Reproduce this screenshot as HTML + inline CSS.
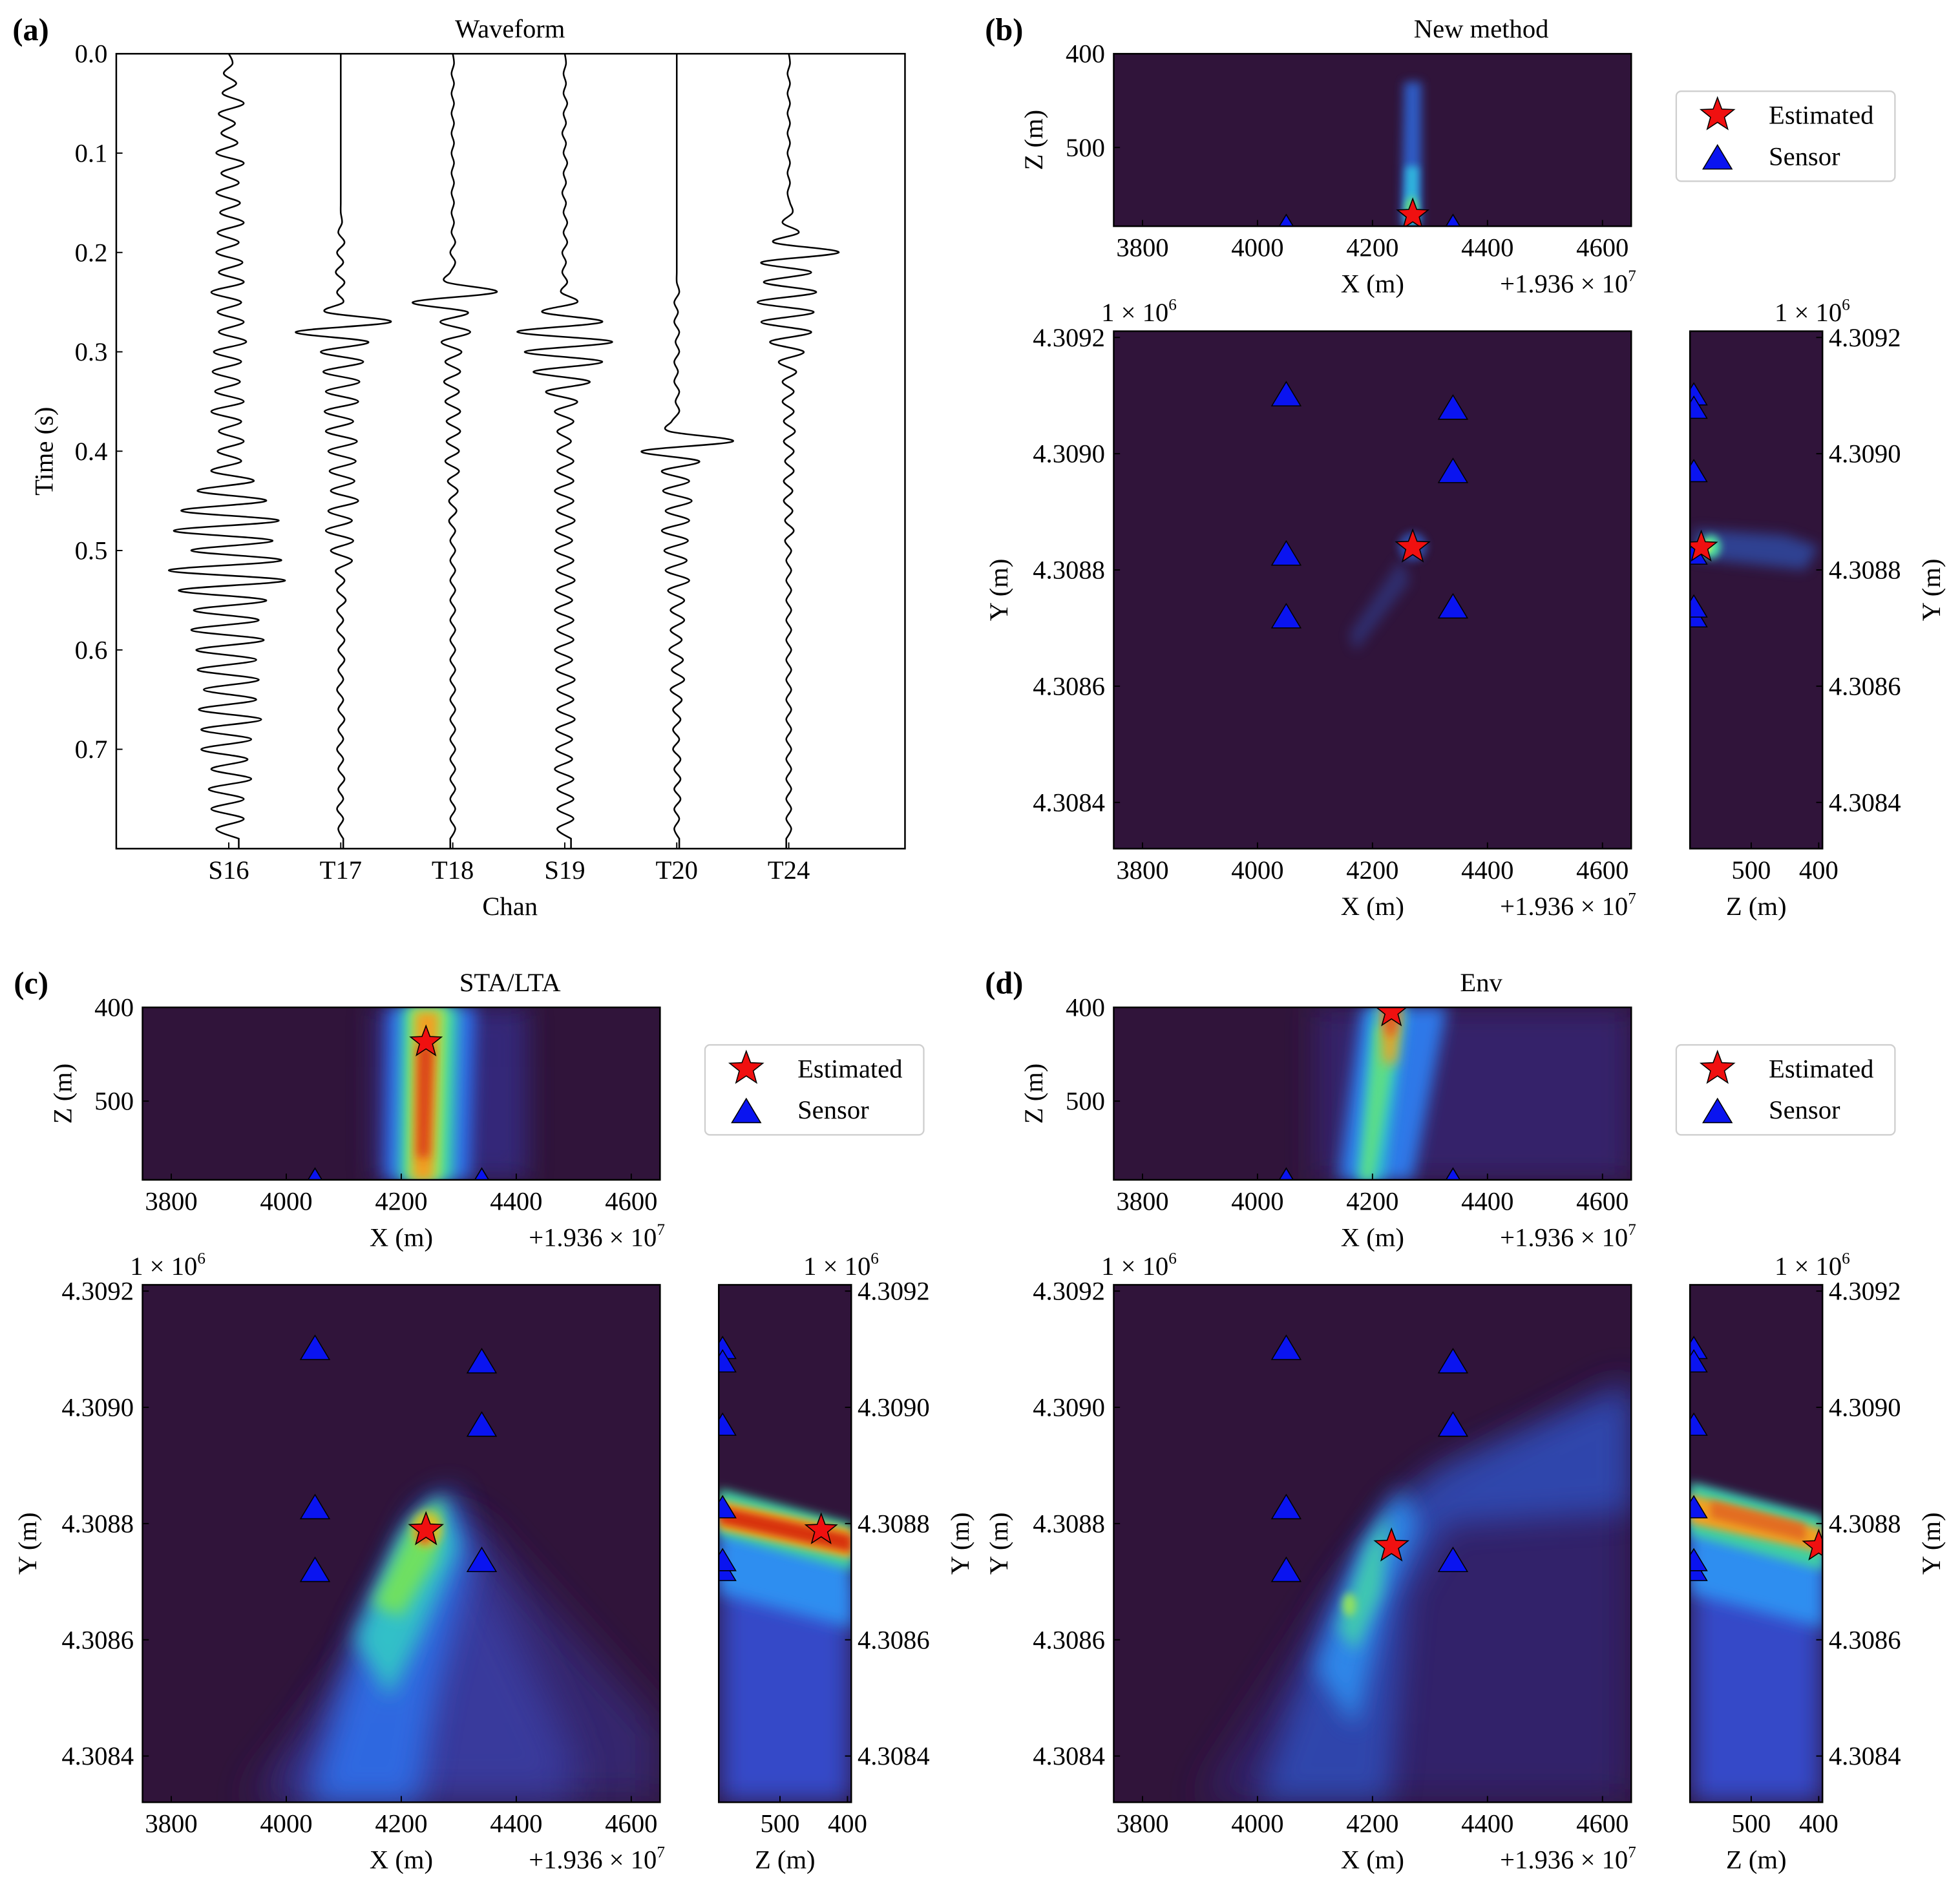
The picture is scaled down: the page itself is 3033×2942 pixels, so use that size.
<!DOCTYPE html>
<html><head><meta charset="utf-8"><style>
html,body{margin:0;padding:0;background:#fff;}
svg{display:block;font-family:"Liberation Serif",serif;}
</style></head><body>
<svg id="fig" width="3033" height="2942" viewBox="0 0 1568 1521" xmlns="http://www.w3.org/2000/svg">
<defs id="defs"></defs>
</svg>
<script>
// ---------- Waveform data (amplitude per 0.01 s sample, t = 0..0.79) ----------
const channels = ["S16","T17","T18","S19","T20","T24"];
const yTicksA = [0.0,0.1,0.2,0.3,0.4,0.5,0.6,0.7];
const wS16 = [0,3,-4,6,-5,12,-8,5,-6,7,-10,12,-6,8,-10,9,-7,12,-9,8,-10,11,-8,12,-14,10,-9,12,-8,14,-12,10,-13,9,-11,12,-14,10,-8,12,-9,10,-14,20,-25,30,-38,40,-44,35,-30,42,-48,45,-40,30,-28,24,-30,28,-26,22,-25,24,-20,22,-24,26,-22,18,-22,15,-14,18,-16,12,-14,12,-10,8];
const wT17 = [0,0,0,0,0,0,0,0,0,0,0,0,0,0,0,0,0,1,-2,3,-3,2,-4,3,-3,2,-12,40,-36,22,-16,18,-14,15,-12,14,-13,10,-12,13,-10,12,-9,11,-8,14,-10,9,-12,10,-8,9,-4,3,-3,4,-3,2,-3,3,-2,3,-2,2,-3,2,-2,3,-2,2,-3,2,-2,3,-2,2,-3,2,-2,2];
const wT18 = [0,1,-1,1,-1,1,-1,1,-1,1,-1,1,-1,1,-1,1,-1,1,-1,2,-2,2,-2,-5,35,-32,12,-10,14,-9,7,-6,6,-7,5,-6,6,-5,6,-5,5,-6,5,-4,4,-3,3,-3,2,-2,2,-2,2,-2,2,-2,2,-2,2,-2,2,-2,2,-2,2,-2,2,-2,2,-2,2,-2,2,-2,2,-2,2,-2,2,-2];
const wS19 = [0,1,-1,1,-1,2,-1,1,-2,1,-1,2,-1,1,-2,1,-1,2,-1,2,-2,1,-2,2,-3,10,-18,30,-38,38,-32,30,-25,20,-15,10,-8,7,-6,5,-6,7,-6,7,-8,7,-6,8,-7,6,-8,7,-6,8,-7,6,-8,7,-6,7,-8,6,-7,8,-6,7,-6,8,-7,6,-7,6,-8,7,-6,7,-6,7,-6,5];
const wT20 = [0,0,0,0,0,0,0,0,0,0,0,0,0,0,0,0,0,0,0,0,0,0,0,0,2,-2,1,-2,2,-1,2,-2,1,-2,2,-1,2,-4,-6,45,-28,18,-12,10,-11,12,-9,10,-12,9,-10,8,-9,10,-7,6,-5,6,-5,4,-6,5,-4,6,-5,4,-3,3,-3,2,-3,3,-2,3,-2,3,-2,2,-2,2];
const wT24 = [0,1,-1,1,-1,1,-1,1,-1,1,-1,1,-1,1,-1,1,3,-5,8,-12,40,-22,18,-20,22,-25,20,-22,18,-15,12,-8,6,-5,4,-5,4,-4,5,-4,4,-3,4,-4,3,-4,3,-3,4,-3,2,-2,2,-2,2,-2,2,-2,2,-2,2,-2,2,-2,2,-2,2,-2,2,-2,2,-2,2,-2,2,-2,2,-2,2,-2];
const waveforms = [wS16,wT17,wT18,wS19,wT20,wT24];

// ---------- Location data ----------
const xTicks = [3800,4000,4200,4400,4600];
const zTicksTop = [400,500];
const zTicksSide = [500,400];
const yTicks = [4.3092,4.3090,4.3088,4.3086,4.3084];
const sensorX = [4050,4050,4050,4340,4340,4340];
const sensorY = [4.30910,4.308826,4.308718,4.309077,4.308968,4.308735];
const sensorZ = [585,585,585,585,585,585];
const panelNames = ["b","c","d"];
const panelTitles = ["New method","STA/LTA","Env"];
const estX = [4270,4243,4233];
const estY = [4.308839,4.308789,4.308761];
const estZTop = [572,437,405];
const estZSide = [574,439,400];

// heatmap approximations (data coords)
const heatTop = {
 b:[['p','#2f6ee8',0.8,4,[[4255,430],[4285,430],[4285,584],[4250,584]]],
    ['p','#30c0e0',0.9,3,[[4258,520],[4280,520],[4280,584],[4255,584]]],
    ['e','#70e070',1,3,4268,565,10,12]],
 c:[['p','#362c80',0.9,10,[[4150,400],[4420,400],[4420,584],[4150,584]]],
    ['p','#2f6ee8',1,6,[[4175,400],[4330,400],[4320,584],[4170,584]]],
    ['p','#3ad0b0',1,5,[[4200,400],[4300,400],[4290,584],[4195,584]]],
    ['p','#8ee860',1,4,[[4215,400],[4280,400],[4270,584],[4210,584]]],
    ['p','#f0a020',1,4,[[4225,405],[4265,405],[4255,584],[4220,584]]],
    ['p','#d63015',0.9,4,[[4230,440],[4255,440],[4248,560],[4228,560]]]],
 d:[['p','#35236a',1,12,[[4100,400],[4650,400],[4650,584],[4100,584]]],
    ['p','#2f78e8',1,6,[[4180,400],[4330,400],[4270,584],[4140,584]]],
    ['p','#30c0d0',1,5,[[4200,400],[4260,400],[4220,584],[4170,584]]],
    ['p','#60e080',0.9,4,[[4205,420],[4245,420],[4200,584],[4180,584]]],
    ['p','#f0a020',1,5,[[4215,400],[4250,400],[4240,460],[4220,460]]],
    ['p','#e05020',1,4,[[4222,400],[4245,400],[4238,430],[4225,430]]]]
};
const heatMain = {
 b:[['e','#2f6ee8',0.6,3,4270,4.30884,25,0.000025],
    ['p','#2f5ed0',0.35,5,[[4160,4.30869],[4250,4.30882],[4265,4.30878],[4170,4.30866]]]],
 c:[['p','#34256e',1,16,[[3930,4.30832],[4150,4.30860],[4270,4.30882],[4330,4.30880],[4650,4.30845],[4650,4.30832]]],
    ['p','#3a3fa8',0.8,16,[[3990,4.30832],[4150,4.30862],[4270,4.30882],[4330,4.30876],[4500,4.30840],[4500,4.30832]]],
    ['p','#2f6ee8',0.9,12,[[4040,4.30832],[4130,4.30862],[4230,4.30882],[4290,4.30886],[4320,4.30874],[4260,4.30850],[4230,4.30832]]],
    ['p','#30c0c8',1,8,[[4120,4.30860],[4200,4.30878],[4270,4.30885],[4300,4.30876],[4230,4.30860],[4180,4.30850]]],
    ['p','#70e060',1,6,[[4150,4.30866],[4220,4.30880],[4270,4.30884],[4260,4.30874],[4200,4.30864]]],
    ['e','#e0c020',1,4,4245,4.30879,25,0.00003],
    ['e','#e05020',0.9,3,4240,4.30878,12,0.000015]],
 d:[['p','#33226a',1,16,[[3900,4.30832],[4150,4.30870],[4300,4.30886],[4650,4.30905],[4650,4.30832]]],
    ['p','#2f5ad0',0.65,12,[[4000,4.30832],[4120,4.30865],[4230,4.30883],[4320,4.30890],[4650,4.30904],[4650,4.30882],[4330,4.30880],[4260,4.30868],[4230,4.30832]]],
    ['p','#2f8ef0',0.9,9,[[4100,4.30855],[4180,4.30876],[4250,4.30886],[4280,4.30880],[4220,4.30866],[4170,4.30845]]],
    ['p','#40c8b0',1,6,[[4140,4.30862],[4190,4.30876],[4230,4.30882],[4215,4.30868],[4170,4.30858]]],
    ['e','#90e060',1,3,4160,4.30866,12,0.00002]]
};
const heatSide = {
 b:[['p','#2f6ee8',0.5,5,[[585,4.30882],[585,4.30887],[450,4.30886],[400,4.30884],[420,4.30880],[500,4.30881]]],
    ['e','#50e0a0',1,3,560,4.30884,15,0.00002],
    ['e','#e0f040',1,2,565,4.30884,6,0.00001]],
 c:[['p','#3448c8',1,10,[[590,4.30878],[394,4.30870],[394,4.30832],[590,4.30832]]],
    ['p','#2f8ef0',1,6,[[590,4.30884],[394,4.30878],[394,4.30862],[590,4.30868]]],
    ['p','#40d0a0',1,4,[[590,4.30886],[394,4.30880],[394,4.30872],[590,4.30878]]],
    ['p','#f0b020',1,3,[[590,4.30884],[394,4.30879],[394,4.30874],[590,4.30879]]],
    ['p','#d83010',1,3,[[590,4.30883],[394,4.30878],[394,4.30875],[590,4.30880]]]],
 d:[['p','#3448c8',1,10,[[590,4.30882],[394,4.30876],[394,4.30832],[590,4.30832]]],
    ['p','#2f8ef0',1,6,[[590,4.30886],[394,4.30880],[394,4.30862],[590,4.30868]]],
    ['p','#40d0a0',1,4,[[590,4.30887],[394,4.30881],[394,4.30872],[590,4.30878]]],
    ['p','#f0a020',1,3,[[590,4.30885],[394,4.30879],[394,4.30875],[590,4.30880]]],
    ['p','#e06020',0.8,3,[[560,4.30884],[420,4.30880],[420,4.30877],[560,4.30881]]]]
};

const NS="http://www.w3.org/2000/svg";
const svg=document.getElementById('fig');
const defs=document.getElementById('defs');
const TS=21, LS=21;
function mk(tag,attrs,parent){const e=document.createElementNS(NS,tag);for(const k in attrs)e.setAttribute(k,attrs[k]);(parent||svg).appendChild(e);return e;}
function txt(s,x,y,size,anchor,parent,extra){const t=mk('text',Object.assign({x:x,y:y,'font-size':size,'text-anchor':anchor||'middle',fill:'#000'},extra||{}),parent);t.textContent=s;return t;}
function sci(x,y,base,exp,anchor,parent){const t=mk('text',{x:x,y:y,'font-size':TS,'text-anchor':anchor,fill:'#000'},parent);
 const a=mk('tspan',{},t);a.textContent=base;const b=mk('tspan',{dy:-9,'font-size':13},t);b.textContent=exp;return t;}
const blurs={};
function blurId(s){if(!blurs[s]){const f=mk('filter',{id:'bl'+s,x:'-50%',y:'-50%',width:'200%',height:'200%'},defs);mk('feGaussianBlur',{stdDeviation:s},f);blurs[s]=1;}return 'url(#bl'+s+')';}
let clipN=0;
function clipRect(x,y,w,h){const id='cp'+(clipN++);const c=mk('clipPath',{id:id},defs);mk('rect',{x:x,y:y,width:w,height:h},c);return 'url(#'+id+')';}
function starPath(cx,cy,r){let d='';for(let i=0;i<10;i++){const rr=i%2?r*0.42:r;const a=-Math.PI/2+i*Math.PI/5;d+=(i?'L':'M')+(cx+rr*Math.cos(a)).toFixed(2)+','+(cy+rr*Math.sin(a)).toFixed(2);}return d+'Z';}
function triPath(cx,cy,s){return 'M'+cx+','+(cy-s)+'L'+(cx+s*1.05)+','+(cy+s*0.75)+'L'+(cx-s*1.05)+','+(cy+s*0.75)+'Z';}
function drawHeat(list,g,sx,sy){
 list.forEach(h=>{
  const [type,color,op,bl]=h;
  if(type==='p'){const pts=h[4].map(p=>sx(p[0]).toFixed(1)+','+sy(p[1]).toFixed(1)).join(' ');
   const e=mk('polygon',{points:pts,fill:color,opacity:op,filter:blurId(bl)},g);
   
   }
  else{const cx=sx(h[4]),cy=sy(h[5]);const rx=Math.abs(sx(h[4]+h[6])-cx),ry=Math.abs(sy(h[5]+h[7])-cy);
   const e=mk('ellipse',{cx:cx,cy:cy,rx:rx,ry:ry,fill:color,opacity:op,filter:blurId(bl)},g);
   
   }
 });
}

// ---------- Panel (a) ----------
(function(){
 const g=mk('g',{});
 
 
 const L=93,T=43,R=724,B=679;
 const ty=t=>T+t*(B-T)/0.8;
 const cx=i=>183+i*89.6;
 txt('(a)',10,32,25,'start',g,{'font-weight':'bold'});
 txt('Waveform',408,30,LS,'middle',g);
 const clip=clipRect(L,T,R-L,B-T);
 const tg=mk('g',{'clip-path':clip},g);
 waveforms.forEach((w,i)=>{
  const pts=w.map((v,k)=>[cx(i)+v,ty(k*0.01)]);
  let d='M'+pts[0][0]+','+pts[0][1];
  for(let k=0;k<pts.length-1;k++){const p0=pts[Math.max(0,k-1)],p1=pts[k],p2=pts[k+1],p3=pts[Math.min(pts.length-1,k+2)];
   d+='C'+(p1[0]+(p2[0]-p0[0])/6).toFixed(1)+','+(p1[1]+(p2[1]-p0[1])/6).toFixed(1)+' '+(p2[0]-(p3[0]-p1[0])/6).toFixed(1)+','+(p2[1]-(p3[1]-p1[1])/6).toFixed(1)+' '+p2[0].toFixed(1)+','+p2[1].toFixed(1);}
  const last=pts[pts.length-1];d+='L'+last[0]+','+B;
  const p=mk('path',{d:d,fill:'none',stroke:'#000','stroke-width':1.3},tg);
  
  
 });
 mk('rect',{x:L,y:T,width:R-L,height:B-T,fill:'none',stroke:'#000','stroke-width':1.3},g);
 yTicksA.forEach(v=>{const y=ty(v);mk('line',{x1:L,y1:y,x2:L+5,y2:y,stroke:'#000'},g);
  const t=txt(v.toFixed(1),86,y+7,TS,'end',g);});
 channels.forEach((c,i)=>{mk('line',{x1:cx(i),y1:B,x2:cx(i),y2:B-5,stroke:'#000'},g);
  const t=txt(c,cx(i),703,TS,'middle',g);});
 txt('Chan',408,732,LS,'middle',g);
 txt('Time (s)',0,0,LS,'middle',g,{transform:'translate(42,361) rotate(-90)'});
})();

// ---------- Panels (b)(c)(d) ----------
const offsets={b:[0,0],c:[-777,763],d:[0,763]};
panelNames.forEach((pn,pi)=>{
 const [dx,dy]=offsets[pn];
 const g=mk('g',{transform:'translate('+dx+','+dy+')'});
 
 
 const XL=891,XR=1305;
 const sx=x=>XL+(x-3750)/900*(XR-XL);
 const TT=43,TB=181; const sz=z=>TT+(z-400)*0.75;
 const MT=265,MB=679; const sy=y=>270+(4.3092-y)*465000;
 const SL=1352,SR=1458; const ssz=z=>SL+(590.7-z)*0.54;
 const bg='#30143a';
 txt('('+pn+')',788,32,25,'start',g,{'font-weight':'bold'});
 txt(panelTitles[pi],1185,30,LS,'middle',g);
 // top XZ
 const ct=clipRect(XL,TT,XR-XL,TB-TT);
 const gt=mk('g',{'clip-path':ct},g);
 mk('rect',{x:XL,y:TT,width:XR-XL,height:TB-TT,fill:bg},gt);
 drawHeat(heatTop[pn],gt,sx,sz);
 sensorX.forEach((x,i)=>{const s=mk('path',{d:triPath(sx(x),sz(sensorZ[i]),10),fill:'#0a14f0',stroke:'#000','stroke-width':0.8},gt);
  });
 const st=mk('path',{d:starPath(sx(estX[pi]),sz(estZTop[pi]),13),fill:'#f01010',stroke:'#000','stroke-width':0.8},gt);
 
 mk('rect',{x:XL,y:TT,width:XR-XL,height:TB-TT,fill:'none',stroke:'#000','stroke-width':1.3},g);
 xTicks.forEach(v=>{mk('line',{x1:sx(v),y1:TB,x2:sx(v),y2:TB-5,stroke:'#000'},g);txt(String(v),sx(v),205,TS,'middle',g);});
 zTicksTop.forEach(v=>{mk('line',{x1:XL,y1:sz(v),x2:XL+5,y2:sz(v),stroke:'#000'},g);txt(String(v),884,sz(v)+7,TS,'end',g);});
 txt('X (m)',1098,234,LS,'middle',g);
 sci(1200,234,'+1.936 × 10','7','start',g);
 txt('Z (m)',0,0,LS,'middle',g,{transform:'translate(834,112) rotate(-90)'});
 // main XY
 const cm=clipRect(XL,MT,XR-XL,MB-MT);
 const gm=mk('g',{'clip-path':cm},g);
 mk('rect',{x:XL,y:MT,width:XR-XL,height:MB-MT,fill:bg},gm);
 drawHeat(heatMain[pn],gm,sx,sy);
 sensorX.forEach((x,i)=>{const s=mk('path',{d:triPath(sx(x),sy(sensorY[i]),11),fill:'#0a14f0',stroke:'#000','stroke-width':0.8},gm);
  });
 const sm=mk('path',{d:starPath(sx(estX[pi]),sy(estY[pi]),14),fill:'#f01010',stroke:'#000','stroke-width':0.8},gm);
 
 mk('rect',{x:XL,y:MT,width:XR-XL,height:MB-MT,fill:'none',stroke:'#000','stroke-width':1.3},g);
 xTicks.forEach(v=>{mk('line',{x1:sx(v),y1:MB,x2:sx(v),y2:MB-5,stroke:'#000'},g);txt(String(v),sx(v),703,TS,'middle',g);});
 yTicks.forEach(v=>{mk('line',{x1:XL,y1:sy(v),x2:XL+5,y2:sy(v),stroke:'#000'},g);txt(v.toFixed(4),884,sy(v)+7,TS,'end',g);});
 sci(881,257,'1 × 10','6','start',g);
 txt('X (m)',1098,732,LS,'middle',g);
 sci(1200,732,'+1.936 × 10','7','start',g);
 txt('Y (m)',0,0,LS,'middle',g,{transform:'translate(806,472) rotate(-90)'});
 // side ZY
 const cs=clipRect(SL,MT,SR-SL,MB-MT);
 const gs=mk('g',{'clip-path':cs},g);
 mk('rect',{x:SL,y:MT,width:SR-SL,height:MB-MT,fill:bg},gs);
 drawHeat(heatSide[pn],gs,ssz,sy);
 sensorZ.forEach((z,i)=>{const s=mk('path',{d:triPath(ssz(z),sy(sensorY[i]),10),fill:'#0a14f0',stroke:'#000','stroke-width':0.8},gs);
  });
 const ss=mk('path',{d:starPath(ssz(estZSide[pi]),sy(estY[pi]),13),fill:'#f01010',stroke:'#000','stroke-width':0.8},gs);
 
 mk('rect',{x:SL,y:MT,width:SR-SL,height:MB-MT,fill:'none',stroke:'#000','stroke-width':1.3},g);
 zTicksSide.forEach(v=>{mk('line',{x1:ssz(v),y1:MB,x2:ssz(v),y2:MB-5,stroke:'#000'},g);txt(String(v),ssz(v),703,TS,'middle',g);});
 yTicks.forEach(v=>{mk('line',{x1:SR,y1:sy(v),x2:SR-5,y2:sy(v),stroke:'#000'},g);txt(v.toFixed(4),1463,sy(v)+7,TS,'start',g);});
 sci(1480,257,'1 × 10','6','end',g);
 txt('Z (m)',1405,732,LS,'middle',g);
 txt('Y (m)',0,0,LS,'middle',g,{transform:'translate(1552,472) rotate(-90)'});
 // legend
 const lg=mk('g',{},g);
 
 
 mk('rect',{x:1341,y:73,width:175,height:72,rx:4,fill:'#fff',stroke:'#cfcfcf','stroke-width':1.2},lg);
 mk('path',{d:starPath(1374,92,14),fill:'#f01010',stroke:'#000','stroke-width':0.8},lg);
 txt('Estimated',1415,99,LS,'start',lg);
 mk('path',{d:triPath(1374,127,11),fill:'#0a14f0',stroke:'#000','stroke-width':0.8},lg);
 txt('Sensor',1415,132,LS,'start',lg);
});
</script>
</body></html>
